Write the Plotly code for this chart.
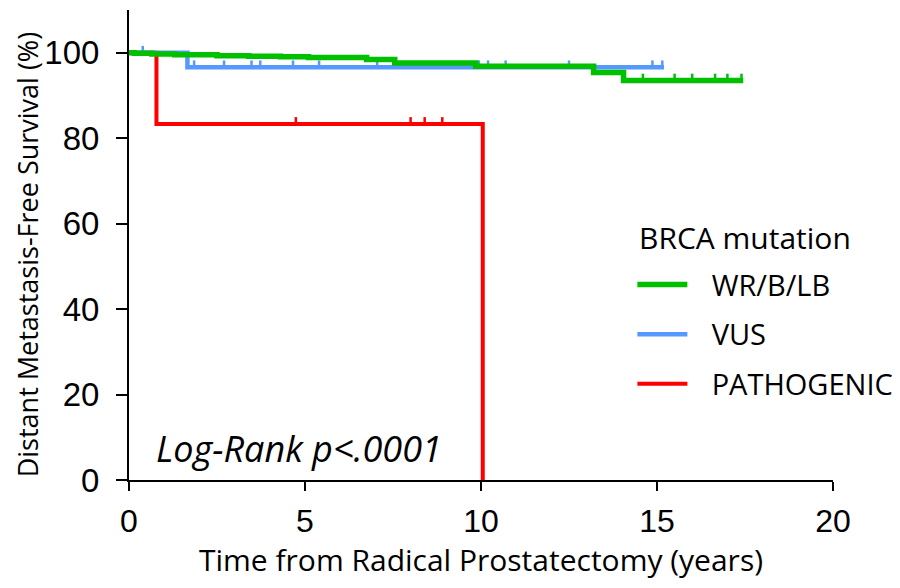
import plotly.graph_objects as go

# ---- data ----
wr_times = [0, 0.15, 0.65, 1.3, 2.5, 3.4, 4.3, 5.1, 6.75, 7.55, 9.85, 13.2, 14.05]
wr_surv = [100, 99.85, 99.7, 99.55, 99.3, 99.2, 99.05, 98.9, 98.4, 97.6, 96.85, 95.4, 93.5]
wr_end = 17.45
wr_censor = [14.6, 15.5, 16.0, 16.65, 17.0, 17.4]

vus_times = [0, 1.66]
vus_surv = [100, 96.6]
vus_end = 15.2
vus_censor = [0.39, 1.85, 2.7, 3.48, 3.73, 4.66, 5.4, 7.05, 9.94, 10.2, 10.7, 12.5, 14.87, 15.15]

path_times = [0, 0.78, 10.05]
path_surv = [100, 83.33, 0]
path_end = 10.05
path_censor = [4.74, 8.0, 8.4, 8.9]

groups = ["WR/B/LB", "VUS", "PATHOGENIC"]
colors = ["#00C000", "#5599FF", "#FF0000"]
widths = [5.5, 4.5, 4]

x_ticks = [0, 5, 10, 15, 20]
y_ticks = [0, 20, 40, 60, 80, 100]

TICK_H = 1.6  # censor tick height in y units
PAD = "\u2002\u2009"  # spacing between legend symbol and label


def step_value(times, surv, t):
    v = surv[0]
    for ti, si in zip(times, surv):
        if ti <= t:
            v = si
    return v


series = [
    (wr_times, wr_surv, wr_end, wr_censor),
    (vus_times, vus_surv, vus_end, vus_censor),
    (path_times, path_surv, path_end, path_censor),
]

fig = go.Figure()
draw_order = [2, 1, 0]  # red, blue, then green on top
for i in draw_order:
    times, surv, end, cens = series[i]
    xs = list(times) + [end]
    ys = list(surv) + [surv[-1]]
    fig.add_trace(go.Scatter(
        x=xs, y=ys, mode="lines", line=dict(color=colors[i], width=widths[i], shape="hv"),
        name=PAD + groups[i], legendrank=i + 1, legendgroup=groups[i],
        hoverinfo="skip"))
    cx, cy = [], []
    for c in cens:
        v = step_value(times, surv, c)
        cx += [c, c, None]
        cy += [v, v + TICK_H, None]
    fig.add_trace(go.Scatter(
        x=cx, y=cy, mode="lines", line=dict(color=colors[i], width=2.5),
        showlegend=False, legendgroup=groups[i], hoverinfo="skip"))

fig.add_annotation(x=0.72, y=7.3, xref="x", yref="y", text="<i>Log-Rank p&lt;.0001</i>",
                   showarrow=False, xanchor="left", yanchor="middle",
                   font=dict(family="Open Sans", size=36, color="black"))

fig.add_annotation(x=0.7216, y=0.517, xref="paper", yref="paper", text="BRCA mutation",
                   showarrow=False, xanchor="left", yanchor="middle",
                   font=dict(family="Open Sans", size=30, color="black"))

# y-axis title placed as rotated text
fig.add_annotation(x=-0.145, y=0.48, xref="paper", yref="paper",
                   text="Distant Metastasis-Free Survival (%)", textangle=-90,
                   showarrow=False, xanchor="center", yanchor="middle",
                   font=dict(family="Open Sans", size=27, color="black"))

# axis overhangs (x axis extends left of 0, y axis extends below 0)
fig.add_shape(type="line", xref="paper", yref="paper", x0=-0.018, x1=0, y0=0, y1=0,
              line=dict(color="black", width=2))
fig.add_shape(type="line", xref="paper", yref="paper", x0=0, x1=0, y0=-0.022, y1=0,
              line=dict(color="black", width=2))

fig.update_layout(
    width=900, height=588,
    margin=dict(l=121, r=75, t=2, b=116),
    plot_bgcolor="white", paper_bgcolor="white",
    font=dict(family="Liberation Sans", size=30, color="black"),
    legend=dict(
        font=dict(family="Open Sans", size=29),
        x=0.715, y=0.47, xanchor="left", yanchor="top",
        bgcolor="rgba(0,0,0,0)", tracegroupgap=9, itemwidth=50,
    ),
    xaxis=dict(
        range=[0, 20], tickvals=x_ticks, ticktext=[str(v) for v in x_ticks],
        showline=True, linecolor="black", linewidth=2, mirror=False,
        ticks="outside", ticklen=9, tickwidth=2, tickcolor="black",
        showgrid=False, zeroline=False, ticklabelstandoff=3,
        tickfont=dict(family="Liberation Sans", size=32),
        title=dict(text="Time from Radical Prostatectomy (years)",
                   font=dict(family="Open Sans", size=30), standoff=12),
    ),
    yaxis=dict(
        range=[0, 110], tickvals=y_ticks, ticktext=[str(v) for v in y_ticks],
        showline=True, linecolor="black", linewidth=2,
        ticks="outside", ticklen=11, tickwidth=2, tickcolor="black",
        showgrid=False, zeroline=False, ticklabelstandoff=10,
        tickfont=dict(family="Liberation Sans", size=33),
        automargin=False,
    ),
)

fig.write_html("out.html")
